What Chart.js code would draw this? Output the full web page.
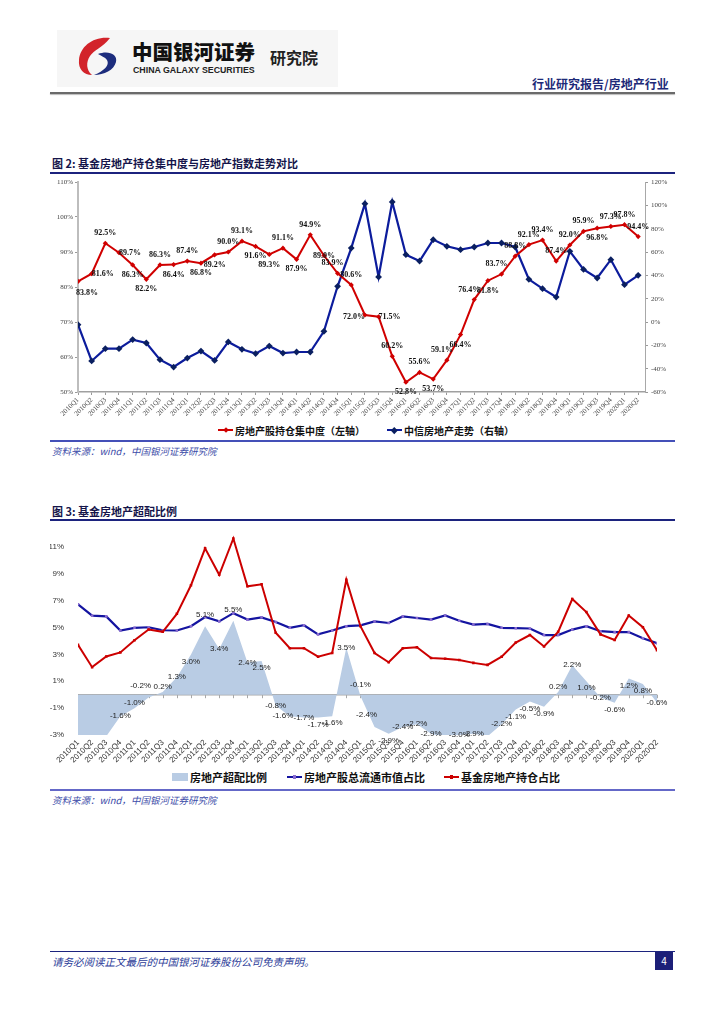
<!DOCTYPE html>
<html lang="zh-CN">
<head>
<meta charset="utf-8">
<title>基金房地产持仓</title>
<script src="https://cdn.jsdelivr.net/npm/chart.js@4.4.1/dist/chart.umd.min.js"></script>
<style>
  html, body { margin: 0; padding: 0; background: #fff; }
  body { width: 724px; height: 1024px; position: relative; overflow: hidden;
         font-family: 'Noto Sans CJK SC', 'Noto Sans', sans-serif; }
  .abs { position: absolute; }
  .rule { position: absolute; left: 50px; width: 625px; }
  .title { position: absolute; left: 52px; font-size: 11px; font-weight: 700; color: #15154a; line-height: 14px; white-space: nowrap; }
  .source { position: absolute; left: 52px; font-size: 9.5px; font-style: italic; color: #3c4ca8; line-height: 12px; white-space: nowrap; }
  .legend { position: absolute; font-weight: 700; color: #111; white-space: nowrap; display: flex; align-items: center; }
  .legend .sw { position: relative; display: inline-block; margin-right: 2px; }
  .legend .ln { position: absolute; left: 0; right: 0; top: 50%; height: 2px; margin-top: -1px; }
  .legend .mk { position: absolute; left: 50%; top: 50%; }
  canvas { position: absolute; left: 0; }
</style>
</head>
<body>

<!-- ---------- Header ---------- -->
<div class="abs" style="left:57px;top:30px;width:281px;height:57px;background:#f6f6f6;"></div>
<svg class="abs" style="left:76px;top:36px" width="48" height="40" viewBox="0 0 48 40">
  <path d="M34 2 C18 0 4 10 3 24 C2 33 8 39 16 39 C10 34 10 26 14 20 C18 14 26 12 34 2 Z" fill="#d2232a"/>
  <path d="M22 18 C32 14 42 18 40 26 C38 34 28 39 18 39 C28 35 34 29 31 24 C29 21 25 20 22 18 Z" fill="#1d2d7d"/>
</svg>
<div class="abs" style="left:132px;top:38px;font-size:20.5px;font-weight:900;color:#111;line-height:26px;">中国银河证券</div>
<div class="abs" style="left:133px;top:65px;font-family:'Liberation Sans',sans-serif;font-size:8.8px;font-weight:700;color:#222;line-height:11px;">CHINA GALAXY SECURITIES</div>
<div class="abs" style="left:270px;top:47px;font-size:16px;font-weight:700;color:#222;line-height:20px;">研究院</div>
<div class="abs" style="left:532px;top:76px;font-size:12px;font-weight:700;color:#1d2a78;line-height:15px;">行业研究报告/房地产行业</div>
<div class="rule" style="top:92px;height:2px;background:#6a6a6a;box-shadow:0 1px 1px #bbb;"></div>

<!-- ---------- Figure 2 ---------- -->
<div class="title" style="top:156px;">图 2:&nbsp;基金房地产持仓集中度与房地产指数走势对比</div>
<div class="rule" style="top:172px;height:2px;background:#1c237e;"></div>
<canvas id="chart1" width="724" height="250" style="top:170px"></canvas>
<div class="legend" id="legend1" style="top:423px;left:218px;font-size:10px;height:14px;"></div>
<div class="rule" style="top:440px;height:2px;background:#4450b8;"></div>
<div class="source" style="top:445px;">资料来源：wind，中国银河证券研究院</div>

<!-- ---------- Figure 3 ---------- -->
<div class="title" style="top:504px;">图 3:&nbsp;基金房地产超配比例</div>
<div class="rule" style="top:519px;height:2px;background:#1c237e;"></div>
<canvas id="chart2" width="724" height="250" style="top:516px"></canvas>
<div class="legend" id="legend2" style="top:769px;left:172px;font-size:11px;height:16px;"></div>
<div class="rule" style="top:789px;height:2px;background:#6468c8;"></div>
<div class="source" style="top:794px;">资料来源：wind，中国银河证券研究院</div>

<!-- ---------- Footer ---------- -->
<div class="rule" style="top:951px;height:1px;background:#1c237e;"></div>
<div class="abs" style="left:52px;top:955px;font-size:10.5px;font-style:italic;color:#2c3c98;line-height:14px;">请务必阅读正文最后的中国银河证券股份公司免责声明。</div>
<div class="abs" style="left:655px;top:952px;width:18px;height:18px;background:#1c1f78;color:#fff;font-size:10px;text-align:center;line-height:18px;">4</div>

<script>
// ---------- Data ----------
const quarters = [
  '2010Q1', '2010Q2', '2010Q3', '2010Q4', '2011Q1', '2011Q2', '2011Q3', '2011Q4',
  '2012Q1', '2012Q2', '2012Q3', '2012Q4', '2013Q1', '2013Q2', '2013Q3', '2013Q4',
  '2014Q1', '2014Q2', '2014Q3', '2014Q4', '2015Q1', '2015Q2', '2015Q3', '2015Q4',
  '2016Q1', '2016Q2', '2016Q3', '2016Q4', '2017Q1', '2017Q2', '2017Q3', '2017Q4',
  '2018Q1', '2018Q2', '2018Q3', '2018Q4', '2019Q1', '2019Q2', '2019Q3', '2019Q4',
  '2020Q1', '2020Q2'
];

// Figure 2 - left axis: 房地产股持仓集中度 (%)
const concentration = [
  81.6, 83.8, 92.5, 89.8, 86.3, 82.2, 86.3, 86.4, 87.4, 86.8, 89.2, 90.0, 93.1, 91.6,
  89.3, 91.1, 87.9, 94.9, 89.0, 83.9, 80.6, 72.0, 71.5, 60.2, 52.8, 55.6, 53.7, 59.1,
  66.4, 76.4, 81.8, 83.7, 88.8, 92.1, 93.4, 87.4, 92.0, 95.9, 96.8, 97.3, 97.8, 94.4
];
// data labels as printed on the chart
const concentrationLabels = [
  '83.8%', '81.6%', '92.5%', '89.7%', '86.3%', '82.2%', '86.3%', '86.4%', '87.4%', '86.8%',
  '89.2%', '90.0%', '93.1%', '91.6%', '89.3%', '91.1%', '87.9%', '94.9%', '89.0%', '83.9%',
  '80.6%', '72.0%', '71.5%', '60.2%', '52.8%', '55.6%', '53.7%', '59.1%', '66.4%', '76.4%',
  '81.8%', '83.7%', '88.8%', '92.1%', '93.4%', '87.4%', '92.0%', '95.9%', '96.8%', '97.3%',
  '97.8%', '94.4%'
];
// Figure 2 - right axis: 中信房地产走势 (%)
const citicIndex = [
  -2.3, -33.4, -22.9, -22.9, -15.1, -18.0, -32.3, -38.6, -30.9, -24.9, -32.9, -17.1, -23.4, -27.1,
  -20.6, -26.6, -25.7, -25.7, -8.0, 30.6, 63.4, 101.4, 38.6, 102.9, 57.7, 52.3, 70.6, 64.9,
  62.0, 64.3, 67.7, 67.7, 64.3, 36.6, 28.6, 21.4, 60.6, 45.1, 37.7, 53.4, 32.0, 40.0
];
const leftTicks = [50, 60, 70, 80, 90, 100, 110];
const rightTicks = [-60, -40, -20, 0, 20, 40, 60, 80, 100, 120];

// Figure 3 (%)
const overweight = [
  -3.05, -3.8, -3.1, -1.6, -1.0, -0.2, 0.2, 1.3, 3.0, 5.1, 3.4, 5.5, 2.4, 2.5,
  -0.8, -1.6, -1.7, -1.7, -1.6, 3.5, -0.1, -2.4, -2.9, -2.4, -2.2, -2.9, -3.2, -3.0,
  -2.9, -3.1, -2.2, -1.1, -0.5, -0.9, 0.2, 2.2, 1.0, -0.2, -0.6, 1.2, 0.8, -0.6
];
const marketShare = [
  6.73, 5.88, 5.83, 4.78, 4.98, 5.02, 4.80, 4.78, 5.10, 5.78, 5.46, 6.07, 5.59, 5.76,
  5.41, 4.98, 5.17, 4.49, 4.78, 5.10, 5.16, 5.46, 5.34, 5.83, 5.71, 5.59, 5.90, 5.51,
  5.22, 5.27, 4.98, 4.95, 4.93, 4.44, 4.44, 4.85, 5.10, 4.73, 4.66, 4.66, 4.20, 3.83
];
const fundShare = [
  3.71, 2.05, 2.85, 3.15, 4.05, 4.85, 4.68, 6.02, 8.15, 10.9, 8.93, 11.63, 8.07, 8.22,
  4.61, 3.46, 3.46, 2.83, 3.10, 8.56, 5.10, 3.10, 2.41, 3.46, 3.54, 2.73, 2.68, 2.59,
  2.37, 2.22, 2.83, 3.88, 4.44, 3.59, 4.68, 7.12, 6.15, 4.49, 4.07, 5.90, 5.02, 3.32
];
const fig3Ticks = [-3, -1, 1, 3, 5, 7, 9, 11];

const NAME_CONC = '房地产股持仓集中度（左轴）';
const NAME_CITIC = '中信房地产走势（右轴）';
const NAME_OVER = '房地产超配比例';
const NAME_MKT = '房地产股总流通市值占比';
const NAME_FUND = '基金房地产持仓占比';

// label placement (a = above, b = below, r/l = side, c = on point)
const concLabelPos = [
  'br', 'r', 'a', 'r', 'b', 'b', 'a', 'b', 'a', 'b', 'b', 'a', 'a', 'b', 'b', 'a', 'b', 'a', 'c', 'al',
  'a', 'l', 'r', 'a', 'b', 'a', 'b', 'al', 'b', 'al', 'b', 'al', 'a', 'a', 'a', 'a', 'a', 'a', 'b', 'a',
  'a', 'a'
];
const overLabelPos = [
  'c', 'c', 'c', 'c', 's', 'al', 's', 'c', 'b', 'a', 'c', 'a', 'c', 'b', 'c', 'l', 'c', 'b', 'b', 'c',
  'a', 'al', 'b', 'c', 'c', 'c', 'c', 'c', 'c', 'c', 'c', 'b', 'b', 'b', 's', 'c', 'b', 'c', 'b', 'b',
  'b', 'c'
];

// ---------- Helpers ----------
const SERIF = "'Liberation Serif', 'DejaVu Serif', serif";
const SANS = "'Liberation Sans', Arial, sans-serif";

function toXY(values) {
  return values.map((v, i) => ({ x: i, y: v }));
}

function fixedWidth(w) {
  return (scale) => { scale.width = w; };
}
function fixedHeight(h) {
  return (scale) => { scale.height = h; };
}

// draws text labels next to points of one dataset
function pointLabelPlugin(id, datasetIndex, textFor, posFor, offsets, font, color) {
  return {
    id,
    afterDatasetsDraw(chart) {
      const ctx = chart.ctx;
      const meta = chart.getDatasetMeta(datasetIndex);
      ctx.save();
      ctx.font = font;
      ctx.fillStyle = color;
      ctx.textAlign = 'center';
      ctx.textBaseline = 'middle';
      meta.data.forEach((pt, i) => {
        const txt = textFor(i);
        if (!txt) return;
        const [dx, dy] = offsets[posFor[i]] || [0, 0];
        ctx.fillText(txt, pt.x + dx, pt.y + dy);
      });
      ctx.restore();
    }
  };
}

function legendItem(parent, name, swatch) {
  const item = document.createElement('span');
  item.style.display = 'inline-flex';
  item.style.alignItems = 'center';
  item.style.marginRight = swatch.gap + 'px';
  const sw = document.createElement('span');
  sw.className = 'sw';
  sw.style.width = swatch.w + 'px';
  sw.style.height = '12px';
  if (swatch.fill) {
    sw.innerHTML = `<span style="position:absolute;left:0;right:0;top:2px;bottom:2px;background:${swatch.fill}"></span>`;
  } else {
    const r = swatch.marker;
    const rot = swatch.diamond ? 'rotate(45deg)' : 'none';
    sw.innerHTML = `<span class="ln" style="background:${swatch.color}"></span>` +
      `<span class="mk" style="width:${r}px;height:${r}px;margin-left:${-r / 2}px;margin-top:${-r / 2}px;background:${swatch.mcolor};transform:${rot}"></span>`;
  }
  item.appendChild(sw);
  const t = document.createElement('span');
  t.textContent = name;
  item.appendChild(t);
  parent.appendChild(item);
}

// ---------- Figure 2 ----------
const chart1 = new Chart(document.getElementById('chart1'), {
  type: 'line',
  data: {
    datasets: [
      {
        label: NAME_CONC,
        data: toXY(concentration),
        yAxisID: 'y',
        borderColor: '#d00000',
        backgroundColor: '#d00000',
        borderWidth: 2,
        pointStyle: 'rectRot',
        pointRadius: 2.6,
        pointBorderWidth: 0,
        tension: 0
      },
      {
        label: NAME_CITIC,
        data: toXY(citicIndex),
        yAxisID: 'y1',
        borderColor: '#0c1c9c',
        backgroundColor: '#0a1f60',
        borderWidth: 2.2,
        pointStyle: 'rectRot',
        pointRadius: 3.4,
        pointBorderWidth: 0,
        tension: 0
      }
    ]
  },
  options: {
    responsive: false,
    animation: false,
    devicePixelRatio: 1,
    layout: { padding: { left: 50, right: 47, top: 12, bottom: 2 } },
    plugins: { legend: { display: false }, tooltip: { enabled: false } },
    scales: {
      x: {
        type: 'linear',
        min: 0,
        max: 41.5,
        afterBuildTicks: (axis) => { axis.ticks = quarters.map((q, i) => ({ value: i })); },
        afterFit: fixedHeight(26),
        ticks: {
          autoSkip: false,
          minRotation: 45,
          maxRotation: 45,
          padding: 1,
          color: '#444',
          font: { family: SERIF, size: 7 },
          callback: (v) => quarters[v]
        },
        grid: { drawOnChartArea: false, drawTicks: true, tickLength: 3, color: '#999' },
        border: { display: true, color: '#a0a0a0', width: 1.5 }
      },
      y: {
        position: 'left',
        min: 50,
        max: 110,
        afterBuildTicks: (axis) => { axis.ticks = leftTicks.map(v => ({ value: v })); },
        afterFit: fixedWidth(28),
        ticks: { color: '#444', padding: 2, font: { family: SERIF, size: 7 }, callback: (v) => v + '%' },
        grid: { drawOnChartArea: false, drawTicks: true, tickLength: 3, color: '#999' },
        border: { display: true, color: '#bdbdbd', width: 2 }
      },
      y1: {
        position: 'right',
        min: -60,
        max: 120,
        afterBuildTicks: (axis) => { axis.ticks = rightTicks.map(v => ({ value: v })); },
        afterFit: fixedWidth(32),
        ticks: { color: '#444', padding: 3, font: { family: SERIF, size: 7 }, callback: (v) => v + '%' },
        grid: { drawOnChartArea: false, drawTicks: true, tickLength: 3, color: '#999' },
        border: { display: true, color: '#a8a8a8', width: 1 }
      }
    }
  },
  plugins: [
    pointLabelPlugin('concLabels', 0, (i) => concentrationLabels[i], concLabelPos,
      { a: [0, -10], b: [0, 10], r: [11, 0], l: [-11, 2], c: [0, 0], br: [9, 12], al: [-5, -10] },
      "bold 8px " + SERIF, '#111')
  ]
});

const legend1 = document.getElementById('legend1');
legendItem(legend1, NAME_CONC, { w: 15, color: '#d00000', mcolor: '#d00000', marker: 4, diamond: true, gap: 22 });
legendItem(legend1, NAME_CITIC, { w: 15, color: '#0c1c9c', mcolor: '#0a1f60', marker: 4.5, diamond: true, gap: 0 });

// ---------- Figure 3 ----------
const zeroLinePlugin = {
  id: 'zeroLine',
  beforeDatasetsDraw(chart) {
    const { ctx, chartArea, scales } = chart;
    const y0 = scales.y.getPixelForValue(0);
    ctx.save();
    ctx.strokeStyle = '#a8a8a8';
    ctx.lineWidth = 1.5;
    ctx.beginPath();
    ctx.moveTo(chartArea.left, y0);
    ctx.lineTo(chartArea.right, y0);
    ctx.stroke();
    ctx.lineWidth = 1;
    quarters.forEach((q, i) => {
      const x = Math.round(scales.x.getPixelForValue(i)) + 0.5;
      ctx.beginPath();
      ctx.moveTo(x, y0);
      ctx.lineTo(x, y0 + 3.5);
      ctx.stroke();
    });
    ctx.restore();
  }
};

const chart2 = new Chart(document.getElementById('chart2'), {
  type: 'line',
  data: {
    datasets: [
      {
        label: NAME_OVER,
        data: toXY(overweight),
        fill: 'origin',
        backgroundColor: '#b9cce4',
        borderWidth: 0,
        borderColor: 'rgba(0,0,0,0)',
        pointRadius: 0,
        tension: 0,
        order: 3
      },
      {
        label: NAME_MKT,
        data: toXY(marketShare),
        borderColor: '#1414a0',
        backgroundColor: '#8a6cd0',
        borderWidth: 2.2,
        pointStyle: 'rect',
        pointRadius: 1.8,
        pointBorderWidth: 0,
        tension: 0,
        order: 2
      },
      {
        label: NAME_FUND,
        data: toXY(fundShare),
        borderColor: '#cc0000',
        backgroundColor: '#cc0000',
        borderWidth: 2,
        pointStyle: 'rect',
        pointRadius: 1.8,
        pointBorderWidth: 0,
        tension: 0,
        order: 1
      }
    ]
  },
  options: {
    responsive: false,
    animation: false,
    devicePixelRatio: 1,
    layout: { padding: { left: 50, right: 67, top: 10, bottom: 3 } },
    plugins: { legend: { display: false }, tooltip: { enabled: false } },
    scales: {
      x: {
        type: 'linear',
        min: 0,
        max: 41,
        afterBuildTicks: (axis) => { axis.ticks = quarters.map((q, i) => ({ value: i })); },
        afterFit: fixedHeight(28),
        ticks: {
          autoSkip: false,
          minRotation: 45,
          maxRotation: 45,
          padding: 3,
          color: '#333',
          font: { family: SANS, size: 8 },
          callback: (v) => quarters[v]
        },
        grid: { display: false, drawTicks: false, tickLength: 0 },
        border: { display: false }
      },
      y: {
        min: -3,
        max: 12.5,
        afterBuildTicks: (axis) => { axis.ticks = fig3Ticks.map(v => ({ value: v })); },
        afterFit: fixedWidth(28),
        ticks: { color: '#333', padding: 6, font: { family: SANS, size: 8 }, callback: (v) => v + '%' },
        grid: { display: false },
        border: { display: false }
      }
    }
  },
  plugins: [
    zeroLinePlugin,
    pointLabelPlugin('overLabels', 0,
      (i) => (overweight[i] >= -3 ? overweight[i].toFixed(1) + '%' : ''),
      overLabelPos,
      { a: [0, -11], b: [0, 7], s: [0, -5], c: [0, 0], al: [-8, -12], l: [-7, 0] },
      "8px " + SANS, '#222')
  ]
});

const legend2 = document.getElementById('legend2');
legendItem(legend2, NAME_OVER, { w: 16, fill: '#b9cce4', gap: 20 });
legendItem(legend2, NAME_MKT, { w: 15, color: '#1414a0', mcolor: '#8a6cd0', marker: 3.5, gap: 19 });
legendItem(legend2, NAME_FUND, { w: 15, color: '#cc0000', mcolor: '#cc0000', marker: 3.5, gap: 0 });
</script>
</body>
</html>
